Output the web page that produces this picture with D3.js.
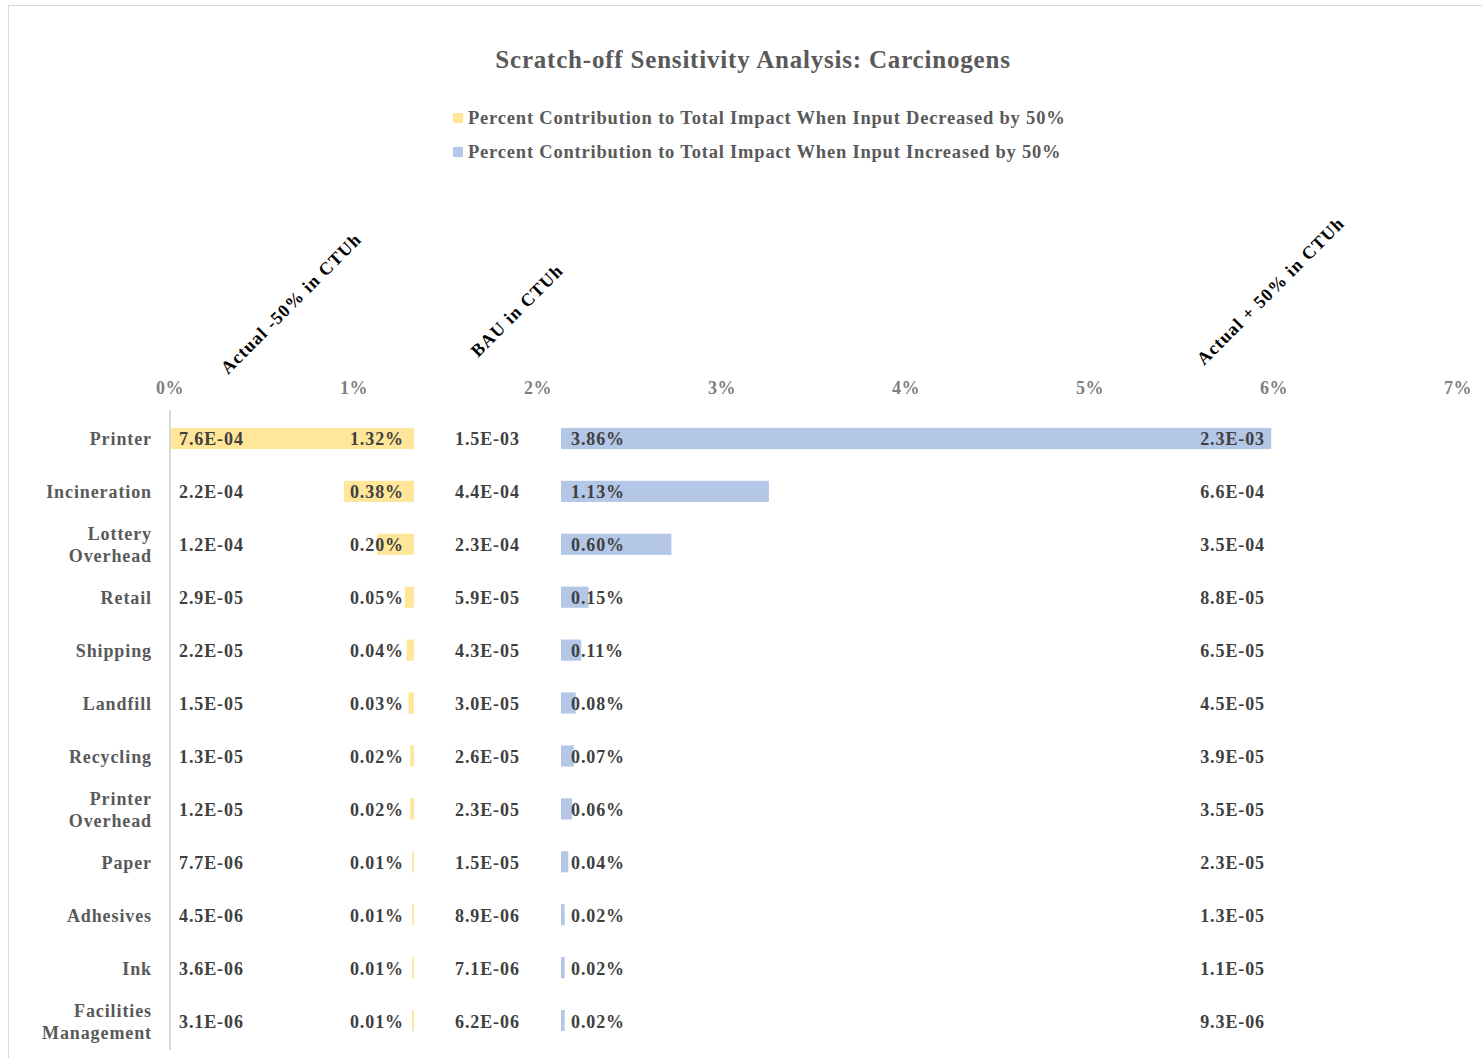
<!DOCTYPE html>
<html>
<head>
<meta charset="utf-8">
<script src="https://cdn.jsdelivr.net/npm/d3@7"></script>
<style>
  body { margin: 0; background: #fff; }
  text { font-family: "Liberation Serif", "Times New Roman", serif; font-weight: bold; }
</style>
</head>
<body>
<svg id="svg" width="1482" height="1058"></svg>
<script>
var categories = ["Printer", "Incineration", "Lottery Overhead", "Retail", "Shipping", "Landfill",
	"Recycling", "Printer Overhead", "Paper", "Adhesives", "Ink", "Facilities Management"];
var minus50 = ["7.6E-04", "2.2E-04", "1.2E-04", "2.9E-05", "2.2E-05", "1.5E-05",
	"1.3E-05", "1.2E-05", "7.7E-06", "4.5E-06", "3.6E-06", "3.1E-06"];
var decPct = [1.32, 0.38, 0.20, 0.05, 0.04, 0.03, 0.02, 0.02, 0.01, 0.01, 0.01, 0.01];
var bau = ["1.5E-03", "4.4E-04", "2.3E-04", "5.9E-05", "4.3E-05", "3.0E-05",
	"2.6E-05", "2.3E-05", "1.5E-05", "8.9E-06", "7.1E-06", "6.2E-06"];
var incPct = [3.86, 1.13, 0.60, 0.15, 0.11, 0.08, 0.07, 0.06, 0.04, 0.02, 0.02, 0.02];
var plus50 = ["2.3E-03", "6.6E-04", "3.5E-04", "8.8E-05", "6.5E-05", "4.5E-05",
	"3.9E-05", "3.5E-05", "2.3E-05", "1.3E-05", "1.1E-05", "9.3E-06"];
var ticks = [0, 1, 2, 3, 4, 5, 6, 7];
var headers = ["Actual -50% in CTUh", "BAU in CTUh", "Actual + 50% in CTUh"];
var legendLabels = ["Percent Contribution to Total Impact When Input Decreased by 50%",
	"Percent Contribution to Total Impact When Input Increased by 50%"];

var svg = d3.select("svg"),
	width = +svg.attr("width"),
	height = +svg.attr("height");

var yellow = "#ffe699", blue = "#b4c7e7";
var decEnd = 1.326, incStart = 2.125;   // stacked offsets in %

var x = d3.scaleLinear().domain([0, 7]).range([170, 1458]);
var y = d3.scaleBand().domain(categories).range([412, 1047]).paddingInner(0.6).paddingOuter(0.3);

// chart border
svg.append("path")
	.attr("d", "M8.5," + height + "V5.5H" + width)
	.attr("fill", "none").attr("stroke", "#d9d9d9");

svg.append("text")
	.attr("x", 753).attr("y", 68)
	.attr("text-anchor", "middle")
	.style("font-size", "25px").style("fill", "#595959").style("letter-spacing", "0.8px")
	.text("Scratch-off Sensitivity  Analysis: Carcinogens");

var legend = svg.append("g").selectAll("g")
	.data(legendLabels)
	.enter().append("g")
	.attr("transform", function (d, i) { return "translate(453," + (118 + i * 34) + ")"; });
legend.append("rect")
	.attr("x", 0).attr("y", -5).attr("width", 10).attr("height", 10)
	.attr("fill", function (d, i) { return i == 0 ? yellow : blue; });
legend.append("text")
	.attr("x", 15).attr("y", 6)
	.style("font-size", "18.5px").style("fill", "#595959").style("letter-spacing", "0.8px")
	.text(function (d) { return d; });

// x tick labels
svg.append("g").selectAll("text")
	.data(ticks)
	.enter().append("text")
	.attr("x", function (d) { return x(d); })
	.attr("y", 394)
	.attr("text-anchor", "middle")
	.style("font-size", "18px").style("fill", "#7f7f7f").style("letter-spacing", "0.5px")
	.text(function (d) { return d + "%"; });

// rotated column headers
var headerPos = [[228, 375], [478, 358], [1204, 366]];
svg.append("g").selectAll("text")
	.data(headers)
	.enter().append("text")
	.attr("transform", function (d, i) { return "translate(" + headerPos[i][0] + "," + headerPos[i][1] + ") rotate(-45)"; })
	.style("font-size", "18px").style("fill", "#000").style("letter-spacing", "1.1px")
	.text(function (d) { return d; });

// axis line
svg.append("line")
	.attr("x1", x(0)).attr("x2", x(0))
	.attr("y1", 410).attr("y2", 1050)
	.attr("stroke", "#d9d9d9").attr("stroke-width", 2);

var rows = categories.map(function (c, i) {
	return { cat: c, minus: minus50[i], dec: decPct[i], bau: bau[i], inc: incPct[i], plus: plus50[i] };
});

var row = svg.append("g").selectAll("g")
	.data(rows)
	.enter().append("g");

row.append("rect")
	.attr("x", function (d) { return x(decEnd - d.dec); })
	.attr("y", function (d) { return y(d.cat); })
	.attr("width", function (d) { return x(decEnd) - x(decEnd - d.dec); })
	.attr("height", y.bandwidth())
	.attr("fill", yellow);

row.append("rect")
	.attr("x", x(incStart))
	.attr("y", function (d) { return y(d.cat); })
	.attr("width", function (d) { return x(incStart + d.inc) - x(incStart); })
	.attr("height", y.bandwidth())
	.attr("fill", blue);

function cy(d) { return y(d.cat) + y.bandwidth() / 2 + 7; }

var label = row.append("text")
	.attr("x", 152)
	.attr("text-anchor", "end")
	.style("font-size", "18px").style("fill", "#595959").style("letter-spacing", "0.9px");
label.each(function (d) {
	var words = d.cat.split(" ");
	var t = d3.select(this);
	words.forEach(function (w, k) {
		t.append("tspan")
			.attr("x", 152)
			.attr("y", cy(d) + (k - (words.length - 1) / 2) * 22)
			.text(w);
	});
});

var valStyle = function (sel) {
	sel.style("font-size", "18px").style("fill", "#404040").style("letter-spacing", "0.9px");
};

row.append("text").attr("x", x(0) + 9).attr("y", cy)
	.call(valStyle).text(function (d) { return d.minus; });
row.append("text").attr("x", x(decEnd) - 10).attr("y", cy).attr("text-anchor", "end")
	.call(valStyle).text(function (d) { return d.dec.toFixed(2) + "%"; });
row.append("text").attr("x", 455).attr("y", cy)
	.call(valStyle).text(function (d) { return d.bau; });
row.append("text").attr("x", x(incStart) + 10).attr("y", cy)
	.call(valStyle).text(function (d) { return d.inc.toFixed(2) + "%"; });
row.append("text").attr("x", 1265).attr("y", cy).attr("text-anchor", "end")
	.call(valStyle).text(function (d) { return d.plus; });
</script>
</body>
</html>
